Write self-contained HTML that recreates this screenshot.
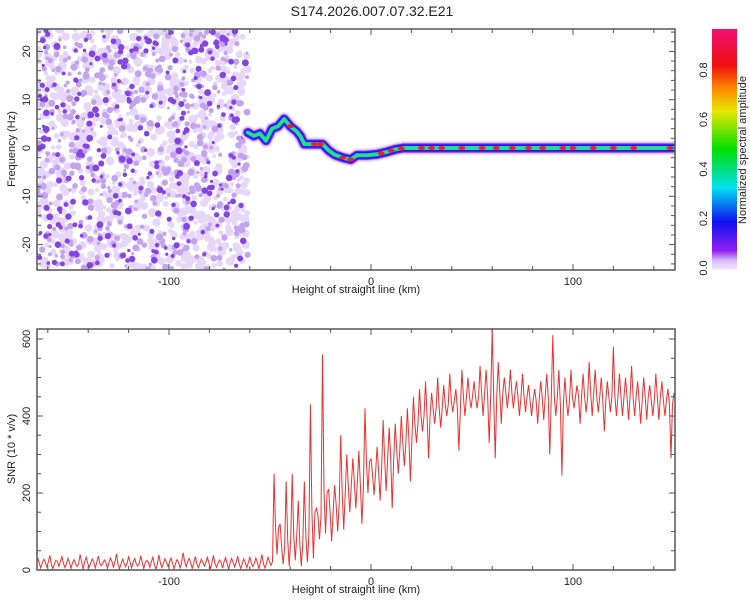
<!DOCTYPE html>
<html><head><meta charset="utf-8"><style>
body{margin:0;background:#fff;width:750px;height:600px;overflow:hidden;font-family:"Liberation Sans",sans-serif}
svg text{font-family:"Liberation Sans",sans-serif;fill:#222}
</style></head><body>
<svg id="c" width="750" height="600">
<defs>
<linearGradient id="cb" x1="0" y1="1" x2="0" y2="0">
<stop offset="0" stop-color="#f4eaff"/><stop offset="0.04" stop-color="#d8b8f8"/>
<stop offset="0.08" stop-color="#9020f0"/><stop offset="0.2" stop-color="#1010f0"/>
<stop offset="0.34" stop-color="#00e0f0"/><stop offset="0.5" stop-color="#00e000"/>
<stop offset="0.66" stop-color="#e8e800"/><stop offset="0.76" stop-color="#ff8000"/>
<stop offset="0.85" stop-color="#f01010"/><stop offset="1" stop-color="#f01070"/>
</linearGradient>
<clipPath id="cp1"><rect x="37" y="29" width="638" height="241"/></clipPath>
<clipPath id="cp2"><rect x="37" y="329" width="638" height="241"/></clipPath>
</defs>
<text x="372" y="16" font-size="14" text-anchor="middle">S174.2026.007.07.32.E21</text>
<g id="topPanel"></g>
<g id="botPanel"></g>
<rect x="712" y="29" width="25" height="241" fill="url(#cb)"/>
<g id="cbt"></g>
<text transform="translate(746,150) rotate(-90)" font-size="11" text-anchor="middle">Normalized spectral amplitude</text>
</svg>
<script>
const NS="http://www.w3.org/2000/svg";
// ---- data ----
const ridgeKm=[-61,-58,-55,-52,-49,-46,-43,-40,-37,-35,-33,-28,-24,-21,-18,-14,-10,-7,-2,3,8,12,16,30,60,90,120,150];
const ridgeHz=[3.2,2.5,3,1.5,4,4.5,6,4.5,3.5,2.5,0.8,0.8,0.8,-0.5,-1.4,-2,-2.4,-1.5,-1.5,-1.3,-0.8,-0.3,0,0,0,0,0,0];
const ridgeRedKm=[-40,-28,-25,-14,-10,5,10,15,25,30,35,45,55,62,70,78,85,95,100,110,120,130,148];
const snrKm0=-165, snrStep=3;
const snrHi=[32,28,38,25,35,30,27,40,33,29,36,26,31,42,28,34,30,37,25,33,39,29,31,27,45,30,35,28,33,38,26,32,30,36,29,34,31,40,33,
250,120,230,250,180,230,430,160,560,210,220,350,300,290,310,420,290,320,390,370,380,400,420,450,470,490,460,500,480,510,470,520,500,490,530,520,625,540,500,520,490,510,480,470,490,510,610,520,500,520,480,510,540,520,500,490,580,510,500,530,490,500,480,510,490,470,460];
const snrMid=[18,20,15,22,17,19,16,21,18,20,17,19,22,16,18,20,17,19,21,15,18,20,17,19,22,18,16,20,19,17,21,18,20,16,19,18,20,17,22,
110,60,80,90,70,90,150,140,200,150,170,200,220,230,220,280,250,260,290,290,310,330,340,380,400,400,420,420,430,440,420,450,450,450,460,450,450,460,460,460,450,450,440,440,450,450,450,430,440,450,450,450,460,450,440,450,450,450,450,450,440,450,440,450,440,430,440];
const snrLo=[5,8,3,10,6,4,9,2,7,5,11,4,6,3,8,5,10,4,7,2,6,9,3,5,8,4,6,10,3,7,5,2,8,4,6,9,3,5,12,
40,15,10,25,10,20,30,80,95,75,100,105,150,160,120,200,195,180,205,160,250,270,230,330,360,290,380,370,400,410,310,400,420,420,400,330,290,380,420,420,400,410,400,380,390,300,400,245,400,420,380,410,400,410,360,410,400,400,390,400,380,390,400,390,400,290,410];
const xTicks=[-100,0,100];
const yTopTicks=[-20,-10,0,10,20];
const yBotTicks=[0,200,400,600];
const cbTicks=[0.0,0.2,0.4,0.6,0.8];
// ---- axes ----
const X=v=>371+(v)*2.02;
const Y1=v=>148-v*4.83;
const Y2=v=>570-v*0.385;
const svgEl=document.getElementById('c');
function mk(t,a,p){const e=document.createElementNS(NS,t);for(const k in a)e.setAttribute(k,a[k]);(p||svgEl).appendChild(e);return e;}
const topG=document.getElementById('topPanel'),botG=document.getElementById('botPanel');
// noise texture (left region)
const ng=mk('g',{'clip-path':'url(#cp1)'},topG);


let seed=12345;const rnd=()=>{seed=(seed*1103515245+12345)%2147483648;return seed/2147483648;};
const nx1=X(-61);
for(let i=0;i<950;i++){const x=37+rnd()*(nx1-37),y=29+rnd()*241;mk('circle',{cx:x,cy:y,r:2+rnd()*2.5,fill:'#e6d6f8'},ng);}
for(let i=0;i<450;i++){const x=37+rnd()*(nx1-37),y=29+rnd()*241;mk('circle',{cx:x,cy:y,r:1.5+rnd()*2,fill:'#c3a3ee'},ng);}
for(let i=0;i<260;i++){const x=39+rnd()*(nx1-41),y=30+rnd()*239;mk('circle',{cx:x,cy:y,r:1.5+rnd()*2,fill:'#8444e4'},ng);}
// ridge
const rg=mk('g',{'clip-path':'url(#cp1)'},topG);


const pts=ridgeKm.map((k,i)=>X(k)+','+Y1(ridgeHz[i])).join(' ');
[[14,'#eee0fb'],[11,'#cdaaf2'],[9,'#6a1ee8'],[6.5,'#1818f0'],[4,'#00d8f0'],[2,'#40e040']].forEach(([w,c])=>{
 const p=mk('polyline',{points:pts,fill:'none',stroke:c,'stroke-width':w,'stroke-linejoin':'round','stroke-linecap':'round'},rg);
 
 
});
function interpHz(k){for(let i=1;i<ridgeKm.length;i++){if(k<=ridgeKm[i]){const t=(k-ridgeKm[i-1])/(ridgeKm[i]-ridgeKm[i-1]);return ridgeHz[i-1]+t*(ridgeHz[i]-ridgeHz[i-1]);}}return ridgeHz[ridgeHz.length-1];}
ridgeRedKm.forEach(k=>{const c=mk('ellipse',{cx:X(k),cy:Y1(interpHz(k)),rx:3.5,ry:2,fill:'#f02020'},rg);
 
 });
// SNR line
let sp=[];const q=snrStep/4;
snrHi.forEach((h,i)=>{const k=snrKm0+i*snrStep;
 sp.push(X(k)+','+Y2(h));sp.push(X(k+q)+','+Y2(snrMid[i]));sp.push(X(k+2*q)+','+Y2(snrLo[i]));sp.push(X(k+3*q)+','+Y2(snrMid[i]));});
const sl=mk('polyline',{points:sp.join(' '),fill:'none',stroke:'#f03030','stroke-width':1,'clip-path':'url(#cp2)'},botG);


// frames and ticks
function frame(g,y0,Yf,yt,minorStep,ymin,ymax,ylab){
 const f=mk('rect',{x:37,y:y0,width:638,height:241,fill:'none',stroke:'#555','stroke-width':1.5},g);
 
 
 for(let k=-160;k<=150;k+=20){const x=X(k),L=(k%100===0)?6:4;
  mk('line',{x1:x,y1:y0,x2:x,y2:y0+L,stroke:'#555'},g);mk('line',{x1:x,y1:y0+241,x2:x,y2:y0+241-L,stroke:'#555'},g);}
 xTicks.forEach(k=>{const t=mk('text',{x:X(k),y:y0+256,'font-size':11,'text-anchor':'middle'},g);t.textContent=k;
  
  });
 for(let v=Math.ceil(ymin/minorStep)*minorStep;v<=ymax;v+=minorStep){const y=Yf(v),L=(yt.includes(v))?6:4;
  mk('line',{x1:37,y1:y,x2:37+L,y2:y,stroke:'#555'},g);mk('line',{x1:675,y1:y,x2:675-L,y2:y,stroke:'#555'},g);}
 yt.forEach(v=>{const t=mk('text',{transform:`translate(30,${Yf(v)}) rotate(-90)`,'font-size':11,'text-anchor':'middle'},g);t.textContent=v;
  
  });
 const xl=mk('text',{x:356,y:y0+264,'font-size':11,'text-anchor':'middle'},g);xl.textContent='Height of straight line (km)';
 
 
 const yl=mk('text',{transform:`translate(15,${y0+120}) rotate(-90)`,'font-size':11,'text-anchor':'middle'},g);yl.textContent=ylab;
 
 
}
frame(topG,29,Y1,yTopTicks,2,-25,25,'Frequency (Hz)');
frame(botG,329,Y2,yBotTicks,50,0,626,'SNR (10 * v/v)');
const cbt=document.getElementById('cbt');
cbTicks.forEach(v=>{const y=268-v*247.5;const t=mk('text',{transform:`translate(707,${y}) rotate(-90)`,'font-size':11,'text-anchor':'middle'},cbt);t.textContent=v.toFixed(1);
 
 });
</script>
</body></html>
